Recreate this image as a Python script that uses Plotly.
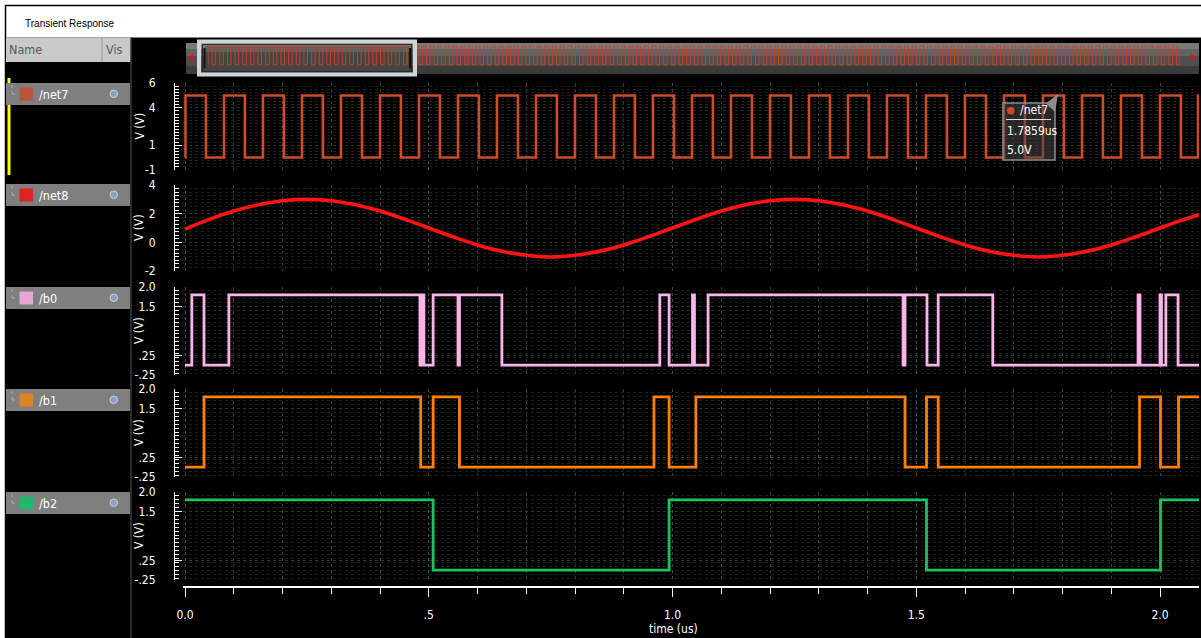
import plotly.graph_objects as go

# ------------------------------------------------------------------ data
TIME_TICKS = [0.0, 0.5, 1.0, 1.5, 2.0]
TIME_TICK_TEXT = ["0.0", ".5", "1.0", "1.5", "2.0"]

SIGNAL_NAMES = ["/net7", "/net8", "/b0", "/b1", "/b2"]
SIGNAL_COLORS = ["#d04a2c", "#ff1414", "#f9b4ea", "#ff8000", "#18c461"]
LEGEND_SWATCH = ["#b8543c", "#e02222", "#e6a6d8", "#e0822a", "#22b86a"]

# /net7 : clock, rising / falling edge times (us)
NET7_RISE = [0.001, 0.080, 0.160, 0.240, 0.320, 0.400, 0.480, 0.560, 0.640,
             0.720, 0.800, 0.880, 0.960, 1.040, 1.120, 1.200, 1.280, 1.360,
             1.440, 1.520, 1.600, 1.680, 1.760, 1.840, 1.920, 2.000, 2.078]
NET7_FALL = [0.043, 0.123, 0.203, 0.283, 0.363, 0.443, 0.523, 0.603, 0.683,
             0.763, 0.843, 0.923, 1.003, 1.083, 1.163, 1.243, 1.323, 1.403,
             1.483, 1.563, 1.643, 1.723, 1.803, 1.883, 1.963, 2.043]
NET7_HIGH = 5.0
NET7_LOW = 0.0

# /net8 : analog input, sampled every 50 ns (us, V)
NET8_T = [0.00, 0.05, 0.10, 0.15, 0.20, 0.25, 0.30, 0.35, 0.40, 0.45, 0.50,
          0.55, 0.60, 0.65, 0.70, 0.75, 0.80, 0.85, 0.90, 0.95, 1.00, 1.05,
          1.10, 1.15, 1.20, 1.25, 1.30, 1.35, 1.40, 1.45, 1.50, 1.55, 1.60,
          1.65, 1.70, 1.75, 1.80, 1.85, 1.90, 1.95, 2.00, 2.05, 2.08]
NET8_V = [0.92, 1.60, 2.18, 2.62, 2.90, 3.00, 2.90, 2.62, 2.18, 1.62, 1.00,
          0.38, -0.18, -0.62, -0.90, -1.02, -0.90, -0.62, -0.18, 0.38, 1.00,
          1.62, 2.18, 2.62, 2.90, 3.00, 2.90, 2.62, 2.18, 1.62, 1.00, 0.38,
          -0.18, -0.62, -0.90, -1.02, -0.90, -0.62, -0.18, 0.38, 1.00, 1.60, 1.92]

# digital outputs : transition times (us) and levels (V)
B0_T = [0.000, 0.014, 0.039, 0.090, 0.482, 0.486, 0.490, 0.509, 0.560, 0.563,
        0.650, 0.974, 0.993, 1.041, 1.045, 1.073, 1.473, 1.477, 1.522, 1.545,
        1.657, 1.955, 1.959, 2.000, 2.003, 2.012, 2.037, 2.080]
B0_V = [0, 1.8, 0, 1.8, 0, 1.8, 0, 1.8, 0, 1.8, 0, 1.8, 0, 1.8, 0, 1.8, 0,
        1.8, 0, 1.8, 0, 1.8, 0, 1.8, 0, 1.8, 0, 0]
B1_T = [0.000, 0.039, 0.4835, 0.509, 0.563, 0.962, 0.993, 1.048, 1.477, 1.521,
        1.545, 1.958, 2.001, 2.038, 2.080]
B1_V = [0, 1.8, 0, 1.8, 0, 1.8, 0, 1.8, 0, 1.8, 0, 1.8, 0, 1.8, 1.8]
B2_T = [0.000, 0.509, 0.993, 1.521, 2.001, 2.080]
B2_V = [1.8, 0, 1.8, 0, 1.8, 1.8]

Y_RANGES = [(-1, 6), (-2, 4), (-0.25, 2.0), (-0.25, 2.0), (-0.25, 2.0)]
Y_TICKVALS = [[6, 4, 1, -1], [4, 2, 0, -2], [2.0, 1.5, 0.25, -0.25],
              [2.0, 1.5, 0.25, -0.25], [2.0, 1.5, 0.25, -0.25]]
Y_TICKTEXT = [["6", "4", "1", "-1"], ["4", "2", "0", "-2"],
              ["2.0", "1.5", ".25", "-.25"], ["2.0", "1.5", ".25", "-.25"],
              ["2.0", "1.5", ".25", "-.25"]]
Y_MINOR = [0.25, 0.25, 0.1, 0.1, 0.1]

CURSOR_LABEL = ["/net7", "1.7859us", "5.0V"]

# ---------------------------------------------------------------- build
net7_t, net7_v = [0.0], [NET7_LOW]
for r, f in zip(NET7_RISE, NET7_FALL):
    net7_t += [r, f]
    net7_v += [NET7_HIGH, NET7_LOW]
net7_t += [NET7_RISE[-1], 2.08]
net7_v += [NET7_HIGH, NET7_HIGH]

W, H = 1201, 638
ML, MR, MT, MB = 174, 2, 40, 52
PW = W - ML - MR
PH = H - MT - MB


def X(px):
    return (px - ML) / PW


def Y(py):
    return (H - MB - py) / PH


COND = "Liberation Sans Narrow, DejaVu Sans Condensed, Arial Narrow, sans-serif"
PANELS = [(83, 170), (185, 271), (287, 375), (389, 477), (492, 580)]
XD0 = X(183)
XRANGE = [-0.0041, 2.08]

fig = go.Figure()

series = [(net7_t, net7_v, "hv"), (NET8_T, NET8_V, "spline"),
          (B0_T, B0_V, "hv"), (B1_T, B1_V, "hv"), (B2_T, B2_V, "hv")]
widths = [2.6, 3.6, 2.8, 2.8, 2.8]
for i, (tt, vv, shp) in enumerate(series):
    fig.add_trace(go.Scatter(
        x=tt, y=vv, mode="lines", xaxis=f"x{i+1}", yaxis=f"y{i+1}",
        line=dict(color=SIGNAL_COLORS[i], width=widths[i], shape=shp),
        hoverinfo="skip", showlegend=False))

layout = dict(
    width=W, height=H, margin=dict(l=ML, r=MR, t=MT, b=MB),
    paper_bgcolor="black", plot_bgcolor="rgba(0,0,0,0)",
    showlegend=False,
)

for i in range(5):
    top, bot = PANELS[i]
    last = i == 4
    xa = dict(
        domain=[XD0, 1], range=XRANGE, fixedrange=True, zeroline=False,
        tickmode="array", tickvals=TIME_TICKS, ticktext=TIME_TICK_TEXT,
        showticklabels=last, ticks="outside" if last else "",
        ticklen=9, tickcolor="white", tickwidth=1,
        tickfont=dict(family=COND, size=12, color="white"),
        ticklabelstandoff=8,
        showgrid=True, gridcolor="#4a4a4a", griddash="dot", gridwidth=1,
        minor=dict(dtick=0.1, tick0=0, showgrid=True, gridcolor="#3c3c3c",
                   griddash="dot", ticks="outside" if last else "",
                   ticklen=6, tickcolor="white"),
        showline=last, linecolor="white", linewidth=1.5,
    )
    if last:
        xa.update(anchor="free", position=0)
    else:
        xa.update(anchor=f"y{i+1}")
    ya = dict(
        domain=[Y(bot), Y(top)], range=list(Y_RANGES[i]), fixedrange=True,
        anchor="free", position=0, zeroline=False,
        showline=True, linecolor="white", linewidth=1,
        tickmode="array", tickvals=Y_TICKVALS[i], ticktext=Y_TICKTEXT[i],
        ticks="inside", ticklen=7, tickcolor="white", tickwidth=1,
        tickfont=dict(family=COND, size=12, color="white"),
        ticklabelstandoff=16,
        showgrid=True, gridcolor="#343434", griddash="dot",
        minor=dict(dtick=Y_MINOR[i], tick0=0, ticks="inside", ticklen=4,
                   tickcolor="white", showgrid=True, gridcolor="#202020",
                   griddash="dot"),
    )
    layout[f"xaxis{'' if i == 0 else i+1}"] = xa
    layout[f"yaxis{'' if i == 0 else i+1}"] = ya

# overview strip inside the scroll bar (the visible window repeated)
OV_W = 199
for k in range(5):
    x0 = 208 + OV_W * k
    x1 = min(x0 + OV_W, 1180)
    n = 6 + k
    fig.add_trace(go.Scatter(
        x=net7_t, y=net7_v, mode="lines", xaxis=f"x{n}", yaxis=f"y{n}",
        line=dict(color="#c8402a", width=1, shape="hv"),
        hoverinfo="skip", showlegend=False))
    layout[f"xaxis{n}"] = dict(domain=[X(x0), X(x1)],
                               range=[0, 2.08 * (x1 - x0) / OV_W],
                               visible=False, fixedrange=True, anchor=f"y{n}")
    layout[f"yaxis{n}"] = dict(domain=[Y(68.5), Y(42.5)], range=[-1, 6],
                               visible=False, fixedrange=True, anchor=f"x{n}")

fig.update_layout(**layout)

shapes = []


def rect(x0, y0, x1, y1, fill, line_color=None, lw=0, layer="above"):
    shapes.append(dict(type="rect", xref="paper", yref="paper",
                       x0=X(x0), x1=X(x1), y0=Y(y1), y1=Y(y0),
                       fillcolor=fill, layer=layer,
                       line=dict(color=line_color or fill, width=lw)))


def hline(x0, x1, y, color, w=1, dash="solid"):
    shapes.append(dict(type="line", xref="paper", yref="paper",
                       x0=X(x0), x1=X(x1), y0=Y(y), y1=Y(y),
                       line=dict(color=color, width=w, dash=dash)))


def vline(x, y0, y1, color, w=1, dash="solid", layer="above"):
    shapes.append(dict(type="line", xref="paper", yref="paper", layer=layer,
                       x0=X(x), x1=X(x), y0=Y(y0), y1=Y(y1),
                       line=dict(color=color, width=w, dash=dash)))


def path(pts, fill, layer="above"):
    d = "M " + " L ".join(f"{X(a):.5f},{Y(b):.5f}" for a, b in pts) + " Z"
    shapes.append(dict(type="path", xref="paper", yref="paper", path=d,
                       fillcolor=fill, line=dict(width=0), layer=layer))


# window chrome
rect(0, 0, W, 37.5, "white")
rect(0, 0, 5, H, "white")
hline(5, W, 5.5, "black", 1.5)
vline(5.5, 5, H, "black", 1.5)
# name / vis header
rect(6, 37.5, 131, 62, "#c9c9c9")
vline(102, 38, 62, "#9a9a9a", 1)
vline(131, 37.5, H, "#3a3a3a", 1.5)

annotations = []


def text(x, y, s, size=12, color="white", family=COND, xanchor="left",
         angle=0):
    annotations.append(dict(x=X(x), y=Y(y), xref="paper", yref="paper",
                            text=s, showarrow=False, xanchor=xanchor,
                            yanchor="middle", textangle=angle,
                            font=dict(size=size, color=color, family=family)))


text(23, 23, "Transient Response", 10, "black", "Liberation Sans, Arial, sans-serif")
text(7, 49.5, "Name", 12.5, "#5a5a5a", COND)
text(104, 49.5, "Vis", 12.5, "#5a5a5a", COND)

# yellow selection bar
rect(7.5, 78, 10.5, 175, "#ffff00")

ROW_TOPS = [83, 184, 287, 389, 492]
for i, rt in enumerate(ROW_TOPS):
    rect(6, rt, 130, rt + 22, "#7f7f7f")
    rect(19.5, rt + 4.5, 33, rt + 17.5, LEGEND_SWATCH[i])
    vline(12, rt + 2, rt + 11, "#b0b0b0", 1, "dot")
    hline(12, 17, rt + 11, "#b0b0b0", 1, "dot")
    shapes.append(dict(type="circle", xref="paper", yref="paper",
                       x0=X(110), x1=X(117.5), y0=Y(rt + 14.5), y1=Y(rt + 7),
                       fillcolor="#8aa0c4", line=dict(color="#c8d4e8", width=1)))
    text(37, rt + 11, SIGNAL_NAMES[i], 12.5, "white")
    top, bot = PANELS[i]
    text(139, (top + bot) / 2, "V (V)", 12, "white", COND, "center", -90)

# scroll bar (background strips drawn below the overview trace)
rect(186, 43, 1199, 49, "#7a7a7a", layer="below")
rect(186, 49, 1199, 56, "#626262", layer="below")
rect(186, 56, 1199, 66, "#4e4e4e", layer="below")
rect(186, 66, 1199, 74, "#3c3c3c", layer="below")
rect(205, 46, 409, 71, "#454545", layer="below")
rect(205, 46, 409, 52, "#5e5e5e", layer="below")
# thumb frame
shapes.append(dict(type="rect", xref="paper", yref="paper", layer="above",
                   x0=X(199), x1=X(415), y0=Y(74.5), y1=Y(41.5),
                   fillcolor="rgba(0,0,0,0)",
                   line=dict(color="#cfd4d9", width=4)))
shapes.append(dict(type="rect", xref="paper", yref="paper", layer="above",
                   x0=X(202.5), x1=X(411.5), y0=Y(71.5), y1=Y(44.5),
                   fillcolor="rgba(0,0,0,0)",
                   line=dict(color="#2a2a2a", width=1)))
vline(204.5, 48, 68, "#111111", 2)
vline(410, 48, 68, "#111111", 2)
path([(188, 57.5), (193, 54), (193, 61)], "#e01010")
path([(1196, 57.5), (1191, 54), (1191, 61)], "#e01010")

# cursor read-out box
shapes.append(dict(type="rect", xref="paper", yref="paper", layer="above",
                   x0=X(1003), x1=X(1055), y0=Y(160), y1=Y(103),
                   fillcolor="rgba(70,70,70,0.55)",
                   line=dict(color="#8c8c8c", width=1.5)))
path([(1046, 103.5), (1058, 94), (1055, 112)], "#8c8c8c")
shapes.append(dict(type="circle", xref="paper", yref="paper", layer="above",
                   x0=X(1007), x1=X(1014.5), y0=Y(114.5), y1=Y(107),
                   fillcolor="#d2472b", line=dict(width=0)))
hline(1006, 1051, 119.5, "#dddddd", 1)
text(1018, 110.5, CURSOR_LABEL[0], 12, "white")
text(1005, 131.5, CURSOR_LABEL[1], 12, "white")
text(1005, 150.5, CURSOR_LABEL[2], 12, "white")

text(673, 628.5, "time (us)", 12, "white", COND, "center")

fig.update_layout(shapes=shapes, annotations=annotations)
fig.write_html("out.html",
               config={"displayModeBar": False, "staticPlot": True},
               post_script="document.body.style.margin='0px';"
                           "document.body.style.overflow='hidden';")
